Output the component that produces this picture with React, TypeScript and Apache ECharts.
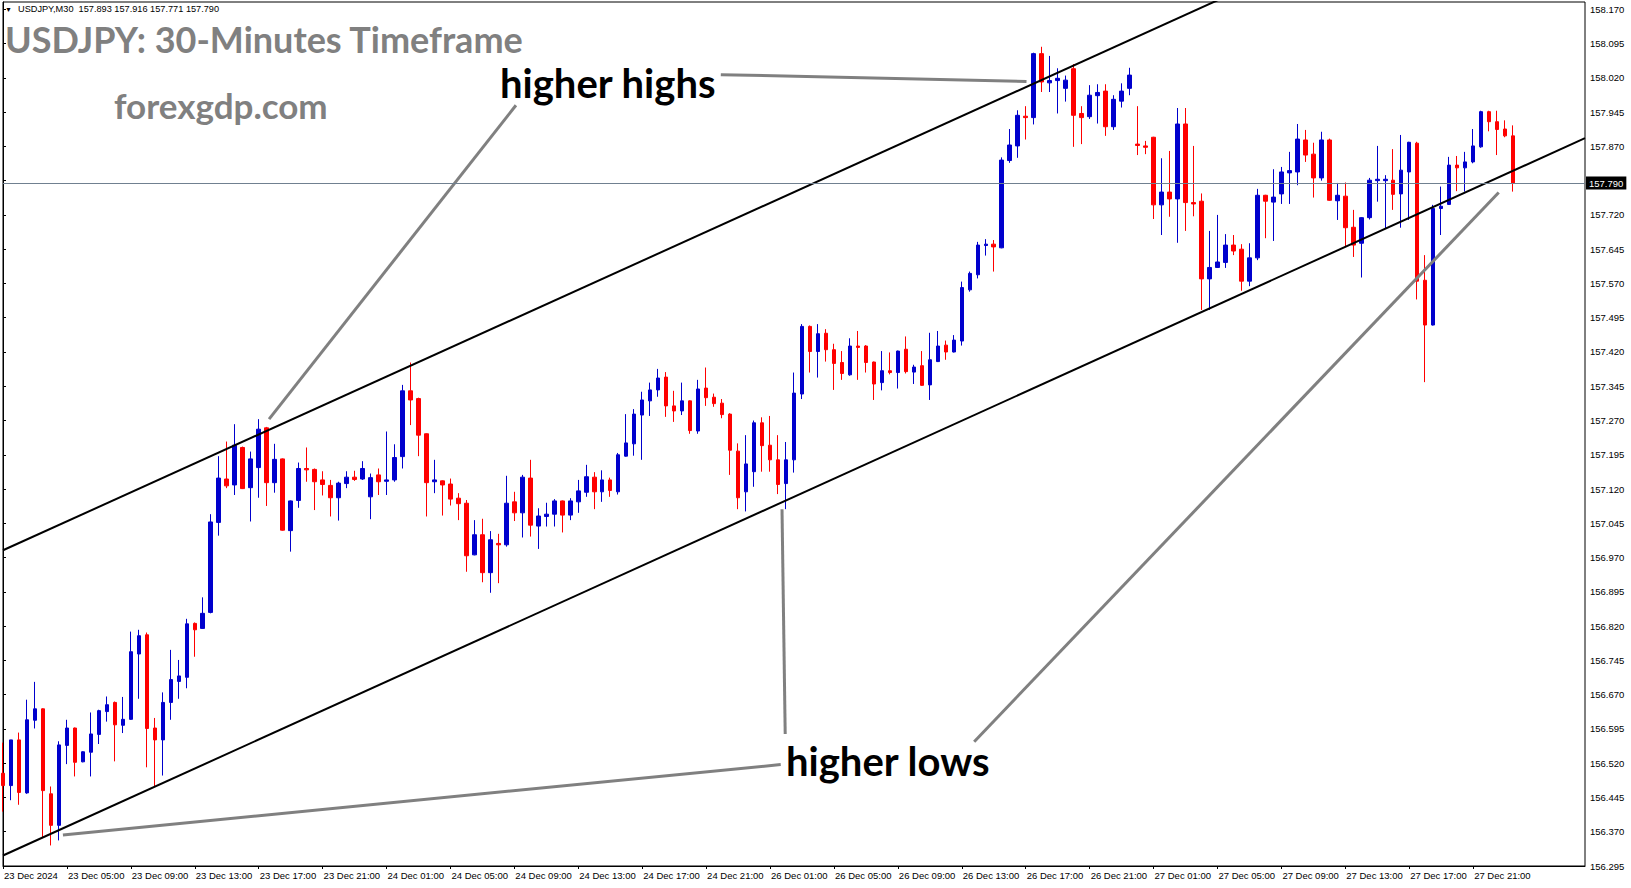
import React, { useEffect, useRef } from 'react';
import * as echarts from 'echarts';

const SYMBOL = 'USDJPY,M30';
const TITLE = 'USDJPY: 30-Minutes Timeframe';
const SITE = 'forexgdp.com';
const LABEL_HH = 'higher highs';
const LABEL_HL = 'higher lows';

// price axis: tick every 0.075 starting from 156.295
const Y_BASE = 156.295;
const Y_STEP = 0.075;
const Y_TOP = 158.186;

const GAP_INDEX = 94; // first bar of 26 Dec (Christmas gap)
const N_SLOTS = 199; // bars + empty right shift

const X_TICK_LABELS = [
  '23 Dec 2024', '23 Dec 05:00', '23 Dec 09:00', '23 Dec 13:00', '23 Dec 17:00', '23 Dec 21:00',
  '24 Dec 01:00', '24 Dec 05:00', '24 Dec 09:00', '24 Dec 13:00', '24 Dec 17:00', '24 Dec 21:00',
  '26 Dec 01:00', '26 Dec 05:00', '26 Dec 09:00', '26 Dec 13:00', '26 Dec 17:00', '26 Dec 21:00',
  '27 Dec 01:00', '27 Dec 05:00', '27 Dec 09:00', '27 Dec 13:00', '27 Dec 17:00', '27 Dec 21:00',
];

const OPEN = [
  156.498,156.471,156.571,156.455,156.614,156.639,156.453,156.384,156.559,156.597,
  156.523,156.544,156.583,156.633,156.653,156.603,156.616,156.759,156.801,156.597,
  156.571,156.653,156.699,156.708,156.826,156.815,156.850,157.047,157.142,157.129,
  157.211,157.123,157.167,157.254,157.134,157.186,157.029,157.095,157.165,157.163,
  157.140,157.128,157.101,157.132,157.146,157.142,157.103,157.151,157.137,157.140,
  157.191,157.335,157.318,157.241,157.136,157.138,157.131,157.100,157.089,156.976,
  157.020,156.937,157.001,156.998,157.092,157.068,157.144,157.039,157.060,157.065,
  157.094,157.063,157.092,157.113,157.146,157.114,157.140,157.114,157.192,157.219,
  157.282,157.313,157.337,157.365,157.302,157.291,157.313,157.247,157.341,157.321,
  157.308,157.284,157.203,157.114,157.158,157.265,157.216,157.184,157.132,157.184,
  157.328,157.476,157.421,157.461,157.425,157.397,157.370,157.433,157.433,157.398,
  157.353,157.379,157.375,157.426,157.376,157.390,157.348,157.399,157.435,157.420,
  157.444,157.556,157.589,157.653,157.656,157.648,157.839,157.871,157.936,157.933,
  158.073,158.009,158.014,157.997,158.040,157.942,157.935,157.981,157.991,157.913,
  157.969,157.997,157.875,157.871,157.890,157.742,157.770,157.755,157.919,157.747,
  157.750,157.580,157.605,157.616,157.654,157.645,157.575,157.626,157.763,157.748,
  157.766,157.812,157.814,157.884,157.853,157.801,157.884,157.751,157.761,157.693,
  157.658,157.714,157.795,157.795,157.796,157.766,157.814,157.877,157.577,157.479,
  157.734,157.743,157.829,157.823,157.836,157.869,157.946,157.924,157.908,157.893,
];

const HIGH = [
  156.565,156.571,156.587,156.659,156.698,156.640,156.469,156.568,156.615,156.598,
  156.546,156.631,156.637,156.666,156.655,156.665,156.808,156.812,156.806,156.619,
  156.675,156.768,156.746,156.836,156.828,156.883,157.065,157.192,157.224,157.262,
  157.213,157.202,157.273,157.256,157.219,157.187,157.095,157.178,157.211,157.165,
  157.159,157.140,157.136,157.159,157.160,157.181,157.154,157.165,157.246,157.218,
  157.348,157.397,157.320,157.242,157.184,157.139,157.143,157.111,157.096,157.052,
  157.055,157.028,157.022,157.149,157.114,157.151,157.184,157.078,157.090,157.098,
  157.095,157.100,157.140,157.173,157.157,157.161,157.145,157.199,157.284,157.295,
  157.333,157.353,157.383,157.376,157.335,157.353,157.314,157.359,157.386,157.329,
  157.317,157.286,157.220,157.238,157.270,157.277,157.280,157.238,157.223,157.375,
  157.481,157.478,157.481,157.470,157.438,157.422,157.450,157.466,157.435,157.399,
  157.422,157.419,157.423,157.454,157.392,157.422,157.462,157.466,157.445,157.457,
  157.574,157.596,157.661,157.667,157.665,157.846,157.908,157.949,157.958,158.075,
  158.088,158.068,158.041,158.025,158.050,157.958,158.004,158.006,158.006,157.982,
  158.008,158.042,157.958,157.882,157.891,157.844,157.860,157.954,157.954,157.871,
  157.767,157.685,157.720,157.678,157.676,157.656,157.658,157.777,157.764,157.820,
  157.825,157.858,157.919,157.906,157.878,157.902,157.887,157.790,157.791,157.731,
  157.715,157.801,157.871,157.807,157.864,157.895,157.880,157.880,157.632,157.742,
  157.782,157.847,157.849,157.858,157.908,157.948,157.948,157.948,157.927,157.916,
];

const LOW = [
  156.414,156.439,156.429,156.453,156.596,156.356,156.340,156.351,156.518,156.491,
  156.522,156.491,156.562,156.611,156.524,156.586,156.615,156.661,156.511,156.468,
  156.493,156.615,156.661,156.684,156.753,156.814,156.848,157.018,157.122,157.107,
  157.120,157.049,157.101,157.083,157.112,157.029,156.983,157.079,157.136,157.074,
  157.106,157.060,157.051,157.122,157.138,157.140,157.054,157.107,157.107,157.136,
  157.165,157.260,157.192,157.060,157.111,157.062,157.084,157.052,156.939,156.975,
  156.916,156.893,156.914,156.994,157.050,157.014,157.016,156.989,157.038,157.038,
  157.025,157.052,157.068,157.103,157.076,157.092,157.103,157.108,157.191,157.193,
  157.184,157.280,157.322,157.278,157.267,157.282,157.241,157.241,157.302,157.300,
  157.275,157.151,157.076,157.071,157.125,157.158,157.158,157.109,157.076,157.156,
  157.317,157.375,157.364,157.399,157.337,157.359,157.368,157.359,157.375,157.315,
  157.336,157.371,157.340,157.373,157.350,157.346,157.315,157.398,157.403,157.419,
  157.434,157.552,157.581,157.631,157.596,157.647,157.834,157.845,157.885,157.918,
  157.989,157.989,157.942,157.968,157.869,157.875,157.930,157.920,157.893,157.906,
  157.955,157.982,157.851,157.853,157.711,157.676,157.716,157.659,157.685,157.717,
  157.512,157.512,157.604,157.604,157.632,157.554,157.564,157.621,157.669,157.663,
  157.744,157.744,157.785,157.836,157.758,157.795,157.751,157.709,157.652,157.628,
  157.583,157.710,157.749,157.690,157.731,157.692,157.709,157.535,157.354,157.478,
  157.676,157.742,157.772,157.771,157.833,157.867,157.903,157.851,157.890,157.771,
];

const CLOSE = [
  156.471,156.571,156.456,156.615,156.639,156.460,156.384,156.560,156.597,156.522,
  156.545,156.584,156.635,156.648,156.604,156.616,156.764,156.799,156.596,156.571,
  156.653,156.703,156.711,156.825,156.812,156.848,157.048,157.144,157.127,157.216,
  157.121,157.186,157.251,157.134,157.185,157.030,157.094,157.165,157.162,157.136,
  157.130,157.101,157.133,157.146,157.141,157.165,157.145,157.136,157.140,157.189,
  157.335,157.315,157.238,157.134,157.140,157.129,157.098,157.088,156.974,157.020,
  156.937,157.009,156.998,157.089,157.068,157.146,157.041,157.061,157.065,157.094,
  157.063,157.094,157.116,157.147,157.114,157.140,157.117,157.195,157.221,157.284,
  157.315,157.337,157.363,157.302,157.291,157.313,157.248,157.339,157.320,157.307,
  157.283,157.205,157.101,157.175,157.265,157.215,157.184,157.130,157.184,157.330,
  157.476,157.421,157.460,157.425,157.395,157.373,157.433,157.430,157.397,157.350,
  157.379,157.375,157.422,157.377,157.387,157.347,157.403,157.433,157.420,157.446,
  157.561,157.592,157.654,157.656,157.650,157.840,157.873,157.938,157.933,158.073,
  158.011,158.014,158.019,158.015,157.938,157.933,157.982,157.988,157.913,157.973,
  157.991,158.026,157.872,157.868,157.742,157.770,157.755,157.919,157.747,157.744,
  157.580,157.605,157.617,157.654,157.641,157.575,157.626,157.763,157.750,157.759,
  157.814,157.817,157.886,157.851,157.801,157.884,157.752,157.763,157.692,157.654,
  157.714,157.796,157.798,157.798,157.765,157.818,157.879,157.575,157.479,157.734,
  157.739,157.829,157.823,157.836,157.871,157.946,157.924,157.907,157.893,157.790,
];

// trend channel lines: [bar index, price]
const CHANNEL_UPPER = [[0, 156.986], [198, 158.554]];
const CHANNEL_LOWER = [[0, 156.318], [198, 157.888]];

// grey pointer lines: [bar index, price]
const POINTERS = [
  [[89.84, 158.027], [128.1, 158.012]],
  [[64.2, 157.960], [33.3, 157.273]],
  [[97.5, 157.076], [97.9, 156.584]],
  [[97.34, 156.517], [7.5, 156.363]],
  [[121.55, 156.567], [187.2, 157.769]],
];

const BULL = '#0000CD';
const BEAR = '#FF0000';
const AXIS_FONT = 'Liberation Sans, Arial, sans-serif';
const BIG_FONT = 'Lato, Open Sans, sans-serif';

const toY = (p: number) => (p - Y_BASE) / Y_STEP;

function barTime(k: number): string {
  const startDay = k < GAP_INDEX ? 23 : 26;
  const mins = k < GAP_INDEX ? 60 + k * 30 : (k - GAP_INDEX) * 30;
  const day = startDay + Math.floor(mins / 1440);
  const m = mins % 1440;
  const hh = String(Math.floor(m / 60)).padStart(2, '0');
  const mm = String(m % 60).padStart(2, '0');
  return `${day} Dec ${hh}:${mm}`;
}

export default function App() {
  const ref = useRef<HTMLDivElement>(null);

  useEffect(() => {
    if (!ref.current) return;
    const chart = echarts.init(ref.current, undefined, { renderer: 'svg' });

    const nBars = OPEN.length;
    const categories = Array.from({ length: N_SLOTS }, (_, k) => (k < nBars ? barTime(k) : `slot ${k}`));
    const candles = OPEN.map((o, i) => [toY(o), toY(CLOSE[i]), toY(LOW[i]), toY(HIGH[i])]);
    const tickShow = (index: number) => index % 8 === 0 && index / 8 < X_TICK_LABELS.length;
    const last = nBars - 1;
    const header = `${SYMBOL}  ${OPEN[last].toFixed(3)} ${HIGH[last].toFixed(3)} ${LOW[last].toFixed(3)} ${CLOSE[last].toFixed(3)}`;

    const lineSeries = (pts: number[][], color: string, width: number) => ({
      type: 'line',
      xAxisIndex: 1,
      yAxisIndex: 0,
      data: pts.map(([k, p]) => [k, toY(p)]),
      symbol: 'none',
      silent: true,
      clip: true,
      z: 4,
      lineStyle: { color, width, type: 'solid' },
    });

    chart.setOption({
      animation: false,
      backgroundColor: '#ffffff',
      grid: {
        left: 3,
        right: 46,
        top: 2,
        bottom: 22,
        show: true,
        borderColor: '#000',
        borderWidth: 1,
        backgroundColor: 'transparent',
      },
      xAxis: [
        {
          type: 'category',
          data: categories,
          boundaryGap: false,
          axisLine: { show: true, lineStyle: { color: '#000', width: 1 } },
          axisTick: { show: true, interval: tickShow, length: 3, lineStyle: { color: '#000' } },
          axisLabel: {
            show: true,
            interval: tickShow,
            formatter: (_v: string, i: number) => X_TICK_LABELS[i / 8] ?? '',
            align: 'left',
            margin: 4,
            padding: [0, 0, 0, 1],
            fontSize: 9.5,
            fontFamily: AXIS_FONT,
            color: '#000',
          },
          splitLine: { show: false },
        },
        { type: 'value', min: 0, max: N_SLOTS - 1, show: false },
      ],
      yAxis: {
        type: 'value',
        position: 'right',
        min: 0,
        max: toY(Y_TOP),
        interval: 1,
        axisLine: { show: true, lineStyle: { color: '#000', width: 1 } },
        axisTick: { show: true, length: 3, lineStyle: { color: '#000' } },
        axisLabel: {
          formatter: (v: number) => (Y_BASE + v * Y_STEP).toFixed(3),
          margin: 5,
          fontSize: 9.5,
          fontFamily: AXIS_FONT,
          color: '#000',
          showMaxLabel: false,
        },
        splitLine: { show: false },
      },
      series: [
        {
          type: 'candlestick',
          xAxisIndex: 0,
          yAxisIndex: 0,
          data: candles,
          barWidth: 4,
          z: 3,
          itemStyle: {
            color: BULL,
            color0: BEAR,
            borderColor: BULL,
            borderColor0: BEAR,
            borderWidth: 1,
          },
          markLine: {
            silent: true,
            symbol: ['none', 'none'],
            data: [{ yAxis: toY(CLOSE[last]) }],
            lineStyle: { color: '#708090', width: 1, type: 'solid' },
            label: {
              show: true,
              position: 'end',
              distance: 1,
              formatter: CLOSE[last].toFixed(3),
              backgroundColor: '#000',
              color: '#fff',
              padding: [2, 3, 1, 3],
              fontSize: 9.5,
              fontFamily: AXIS_FONT,
            },
          },
        },
        lineSeries(CHANNEL_UPPER, '#000', 2),
        lineSeries(CHANNEL_LOWER, '#000', 2),
        ...POINTERS.map((p) => lineSeries(p, '#808080', 3)),
      ],
      graphic: [
        { type: 'text', x: 5, y: 9, style: { text: '\u25BC', fill: '#000', fontSize: 7, fontFamily: AXIS_FONT, verticalAlign: 'middle' } },
        { type: 'text', x: 18, y: 9, style: { text: header, fill: '#000', fontSize: 9.2, fontFamily: AXIS_FONT, verticalAlign: 'middle' } },
        { type: 'text', x: 5, y: 39, style: { text: TITLE, fill: '#808080', fontSize: 36, fontWeight: 'bold', fontFamily: BIG_FONT, verticalAlign: 'middle' } },
        { type: 'text', x: 114, y: 105, style: { text: SITE, fill: '#808080', fontSize: 35, fontWeight: 'bold', fontFamily: BIG_FONT, verticalAlign: 'middle' } },
        { type: 'text', x: 500, y: 83, style: { text: LABEL_HH, fill: '#000', fontSize: 40, fontWeight: 'bold', fontFamily: BIG_FONT, verticalAlign: 'middle' } },
        { type: 'text', x: 786, y: 761, style: { text: LABEL_HL, fill: '#000', fontSize: 40, fontWeight: 'bold', fontFamily: BIG_FONT, verticalAlign: 'middle' } },
      ],
    });

    return () => chart.dispose();
  }, []);

  return (
    <div
      ref={ref}
      style={{ position: 'fixed', left: 0, top: 0, width: 1631, height: 888, background: '#fff' }}
    />
  );
}
